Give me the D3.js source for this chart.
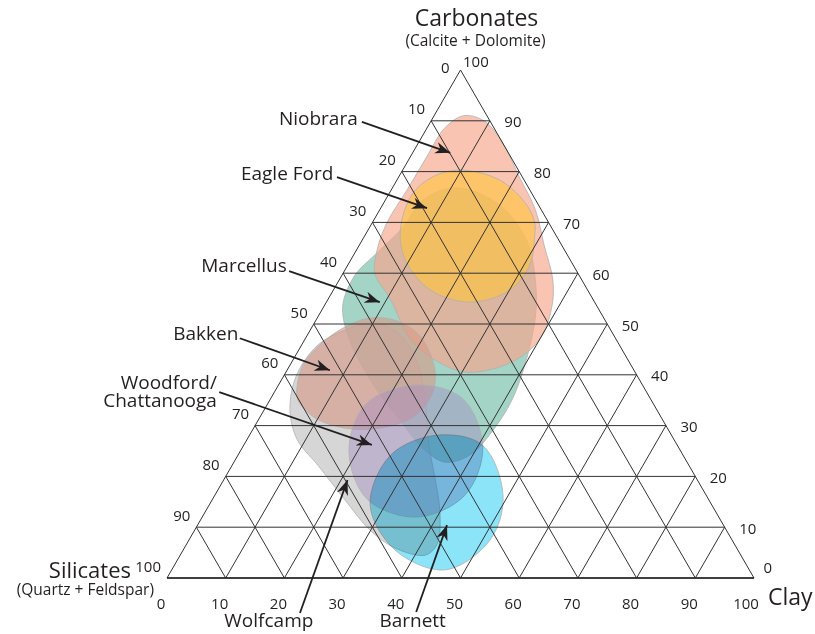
<!DOCTYPE html>
<html>
<head>
<meta charset="utf-8">
<script src="https://cdn.jsdelivr.net/npm/d3@7"></script>
<style>
  body { margin: 0; background: #fff; }
  text { font-family: "Open Sans", sans-serif; fill: #231f20; }
</style>
</head>
<body>
<svg id="chart"></svg>
<script>
// tick values for the three axes
var ticks = [0, 10, 20, 30, 40, 50, 60, 70, 80, 90, 100];

// shale play fields, each point is [carbonate %, clay %]
var marcellus = [[76.8,11],[73.4,20],[66.5,28],[58.7,33.4],[50.8,37.3],[36.4,41.1],[29.1,41],[24.2,39.5],[22.8,36],[25.2,31.3],[31.1,24.1],[39,15.1],[47.8,6.9],[53.7,3.1],[59.6,2.2],[63.6,3.6],[69.1,5.7],[74.4,6.4]];
var wolfcamp = [[48.8,5.9],[50.2,10.3],[47.8,15.8],[41.9,21.8],[35,26.5],[27.2,30.9],[12.8,40.1],[6.5,42.7],[4.5,41.7],[5.9,35.9],[9.4,29.9],[15.4,22.6],[22.2,14.6],[27.2,8.6],[33.1,4.4],[40,2.1],[45.9,2.8]];
var niobrara = [[91,5],[90,9],[86,14],[79,20.5],[72.5,26.5],[65.5,31.5],[58.5,36.5],[53,39],[47,40],[42.5,37.5],[40.5,31],[42.5,25],[47,18],[55,10.5],[60,5.4],[64.6,3.5],[69.9,2.5],[76.4,2.7],[82.9,2.8],[88.5,3]];
var eagleFord = [[80.3,9.8],[78.3,17.6],[73.4,24.6],[69.9,27.7],[67.5,28.9],[61.6,31],[56.7,30.1],[54.3,24.5],[56.7,16.5],[62.6,9.3],[68.5,5.5],[75.4,4],[78.9,5.7]];
var bakken = [[51.2,9],[50.4,14.5],[47.2,19.8],[40.9,25.2],[36,27.1],[31.7,26.1],[29.5,21.5],[29.5,15.6],[31.5,9.5],[35,4.8],[37,3.6],[41.9,2.2],[45.9,3.1],[49.2,5.4]];
var woodford = [[38,22.9],[35.4,32.6],[25.8,40.9],[16.3,42.6],[12,36.6],[15.4,26.5],[24.8,18.6],[34.1,16.7]];
var barnett = [[28.1,31.9],[26.2,40.6],[16.3,49.1],[7.5,51.3],[1.6,46.6],[5.5,36.1],[14.4,27.4],[24.2,26]];

var fieldNames = ["Marcellus", "Wolfcamp", "Niobrara", "Eagle Ford", "Bakken", "Woodford", "Barnett"];
var fieldShapes = [marcellus, wolfcamp, niobrara, eagleFord, bakken, woodford, barnett];
var fieldColors = ["#9ed2c3", "#bdbdbd", "#f7a58a", "#ffc53a", "#d99a88", "#a58fc4", "#8ce4f8"];
var fieldOpacity = [0.95, 0.62, 0.66, 0.6, 0.62, 0.45, 1];

// call-out labels: name, label anchor, arrow tail, arrow head (all [carbonate, clay])
var calloutNames = ["Niobrara", "Eagle Ford", "Marcellus", "Bakken", "Woodford/|Chattanooga", "Wolfcamp", "Barnett"];
var calloutLabels = [[89.2,-12.1],[78.3,-10.8],[60.2,-9.7],[46.9,-11.3],[37.2,-10.1],[-9.7,22.2],[-9.7,46.7]];
var calloutTails = [[89.8,-11.7],[78.9,-10.5],[60.4,-9.4],[47.2,-11.2],[36.6,-9.4],[-6.9,26.1],[-6.7,45.8]];
var calloutHeads = [[83.7,6.4],[72.8,7.9],[54.3,9.1],[40.9,7.3],[26.2,21.8],[19.3,21.1],[10.4,42.5]];

var width = 815, height = 634;

var svg = d3.select("#chart")
    .attr("width", width)
    .attr("height", height);

var xScale = d3.scaleLinear().domain([0, 100]).range([167, 754]);
var yScale = d3.scaleLinear().domain([0, 100]).range([578, 70]);

// ternary -> screen
var px = function(c, k) { return xScale(k + c / 2); };
var py = function(c) { return yScale(c); };

var blob = d3.line()
    .x(d => px(d[0], d[1]))
    .y(d => py(d[0]))
    .curve(d3.curveCatmullRomClosed.alpha(0.5));

var fields = svg.append("g");
fieldShapes.forEach(function(shape, i) {
  var p = fields.append("path")
    .attr("class", "field " + fieldNames[i].toLowerCase().replace(" ", ""))
    .attr("d", blob(shape))
    .attr("fill", fieldColors[i])
    .attr("fill-opacity", fieldOpacity[i])
    .attr("stroke", "#b0b0b0")
    .attr("stroke-width", 0.8);
  if (fieldNames[i] == "Barnett") p.style("mix-blend-mode", "multiply");
});

// grid
var grid = svg.append("g")
    .attr("stroke", "#333")
    .attr("stroke-width", 1)
    .attr("fill", "none");

ticks.forEach(function(t) {
  // constant carbonate
  grid.append("line")
    .attr("x1", px(t, 0)).attr("y1", py(t))
    .attr("x2", px(t, 100 - t)).attr("y2", py(t));
  // constant clay
  grid.append("line")
    .attr("x1", px(0, t)).attr("y1", py(0))
    .attr("x2", px(100 - t, t)).attr("y2", py(100 - t));
  // constant silicate
  grid.append("line")
    .attr("x1", px(0, 100 - t)).attr("y1", py(0))
    .attr("x2", px(100 - t, 0)).attr("y2", py(100 - t));
});

grid.append("line")
  .attr("x1", px(0, 0)).attr("y1", py(0))
  .attr("x2", px(0, 100)).attr("y2", py(0))
  .attr("stroke", "#222")
  .attr("stroke-width", 1.4);

// tick labels
var tickLabels = svg.append("g").attr("font-size", 15);

// silicates, down the left side
tickLabels.selectAll(".tl").data(ticks).enter().append("text")
  .attr("text-anchor", "end")
  .attr("x", d => px(100 - d, 0) - (d == 0 ? 11 : 6))
  .attr("y", d => py(100 - d) + (d == 0 ? 3 : -6.5))
  .text(d => d);

// carbonates, down the right side
tickLabels.selectAll(".tr").data(ticks).enter().append("text")
  .attr("text-anchor", "start")
  .attr("x", d => px(d, 100 - d) + (d == 100 ? 2.5 : d == 0 ? 9.5 : 14.5))
  .attr("y", d => py(d) + (d == 100 ? -3 : d == 0 ? -5 : 6.5))
  .text(d => d);

// clay, along the bottom
tickLabels.selectAll(".tb").data(ticks).enter().append("text")
  .attr("text-anchor", "middle")
  .attr("x", d => px(0, d) - (d == 100 ? 8 : 6))
  .attr("y", py(0) + 30.5)
  .text(d => d);

// axis titles
svg.append("text")
  .attr("x", px(100, 0) + 16).attr("y", py(100) - 44)
  .attr("text-anchor", "middle").attr("font-size", 23)
  .text("Carbonates");
svg.append("text")
  .attr("x", px(100, 0) + 15).attr("y", py(100) - 24.5)
  .attr("text-anchor", "middle").attr("font-size", 15.5)
  .text("(Calcite + Dolomite)");
svg.append("text")
  .attr("x", px(0, 0) - 36).attr("y", py(0) - 0.5)
  .attr("text-anchor", "end").attr("font-size", 22)
  .text("Silicates");
svg.append("text")
  .attr("x", px(0, 0) - 13).attr("y", py(0) + 16.5)
  .attr("text-anchor", "end").attr("font-size", 15.5)
  .text("(Quartz + Feldspar)");
svg.append("text")
  .attr("x", px(0, 100) + 14).attr("y", py(0) + 27)
  .attr("text-anchor", "start").attr("font-size", 23)
  .text("Clay");

// call-outs
svg.append("defs").append("marker")
    .attr("id", "arrow")
    .attr("viewBox", "-15 -6 16 12")
    .attr("refX", 0).attr("refY", 0)
    .attr("markerWidth", 16).attr("markerHeight", 12)
    .attr("markerUnits", "userSpaceOnUse")
    .attr("orient", "auto")
  .append("path")
    .attr("d", "M0,0 L-15,-5.8 L-10.5,0 L-15,5.8 Z")
    .attr("fill", "#231f20");

var callouts = svg.append("g");
calloutNames.forEach(function(name, i) {
  var t = calloutTails[i], h = calloutHeads[i], l = calloutLabels[i];
  callouts.append("line")
    .attr("x1", px(t[0], t[1])).attr("y1", py(t[0]))
    .attr("x2", px(h[0], h[1])).attr("y2", py(h[0]))
    .attr("stroke", "#231f20")
    .attr("stroke-width", 1.8)
    .attr("marker-end", "url(#arrow)");

  var below = l[0] < 0;
  var txt = callouts.append("text")
    .attr("font-size", 19)
    .attr("text-anchor", below ? "middle" : "end")
    .attr("x", px(l[0], l[1]))
    .attr("y", py(l[0]));
  name.split("|").forEach(function(part, j) {
    txt.append("tspan")
      .attr("x", px(l[0], l[1]))
      .attr("dy", j == 0 ? 0 : 18)
      .text(part);
  });
});
</script>
</body>
</html>
